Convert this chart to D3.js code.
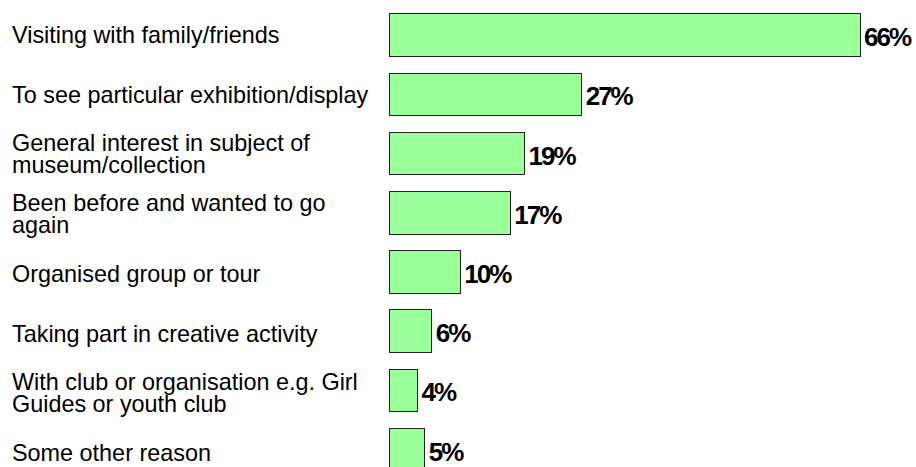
<!DOCTYPE html>
<html>
<head>
<meta charset="utf-8">
<script src="https://cdn.jsdelivr.net/npm/d3@7"></script>
<style>
  html, body { margin: 0; padding: 0; background: #fff; }
  svg { display: block; }
  .cat { font-family: "Liberation Sans", Arial, sans-serif; font-size: 23.4px; fill: #000; }
  .val { font-family: "Liberation Sans", Arial, sans-serif; font-size: 26px; font-weight: bold; letter-spacing: -2px; fill: #000; }
</style>
</head>
<body>
<div id="chart"></div>
<script>
// reasons for visiting, one line per entry as wrapped in the picture
const categories = [
    ["Visiting with family/friends"],
    ["To see particular exhibition/display"],
    ["General interest in subject of", "museum/collection"],
    ["Been before and wanted to go", "again"],
    ["Organised group or tour"],
    ["Taking part in creative activity"],
    ["With club or organisation e.g. Girl", "Guides or youth club"],
    ["Some other reason"]
];
const values = [66, 27, 19, 17, 10, 6, 4, 5];
const valueLabels = ["66%", "27%", "19%", "17%", "10%", "6%", "4%", "5%"];

const width = 916, height = 467;
const keys = d3.range(categories.length);

const svg = d3.select('#chart')
    .append('svg')
        .attr('width', width)
        .attr('height', height);

// scales
const x = d3.scaleLinear()
    .domain([0, d3.max(values)])
    .range([389, 860]);

const y = d3.scaleBand()
    .domain(keys)
    .range([5.7, 479.1])
    .paddingInner(0.28)
    .paddingOuter(0.14);

// category labels sit on their own (slightly looser) row scale
const yLab = d3.scalePoint()
    .domain(keys)
    .range([43, 461]);

const lineH = 22;

// bars
svg.append('g')
    .selectAll('rect')
    .data(keys)
    .join('rect')
        .attr('x', x(0))
        .attr('y', i => y(i))
        .attr('width', i => x(values[i]) - x(0))
        .attr('height', y.bandwidth())
        .attr('fill', '#99ff99')
        .attr('stroke', '#222')
        .attr('stroke-width', 1)
        .attr('shape-rendering', 'crispEdges');

// value labels
svg.append('g')
    .selectAll('text')
    .data(keys)
    .join('text')
        .attr('class', 'val')
        .attr('x', i => x(values[i]) + 4)
        .attr('y', i => y(i) + y.bandwidth() / 2 + 11)
        .text(i => valueLabels[i]);

// category labels (yLab gives the middle baseline of each block)
const cat = svg.append('g')
    .selectAll('text')
    .data(keys)
    .join('text')
        .attr('class', 'cat')
        .attr('x', 12)
        .attr('y', i => yLab(i) - (categories[i].length - 1) * lineH / 2);

cat.selectAll('tspan')
    .data(i => categories[i])
    .join('tspan')
        .attr('x', 12)
        .attr('dy', (d, j) => j == 0 ? 0 : lineH)
        .text(d => d);
</script>
</body>
</html>
